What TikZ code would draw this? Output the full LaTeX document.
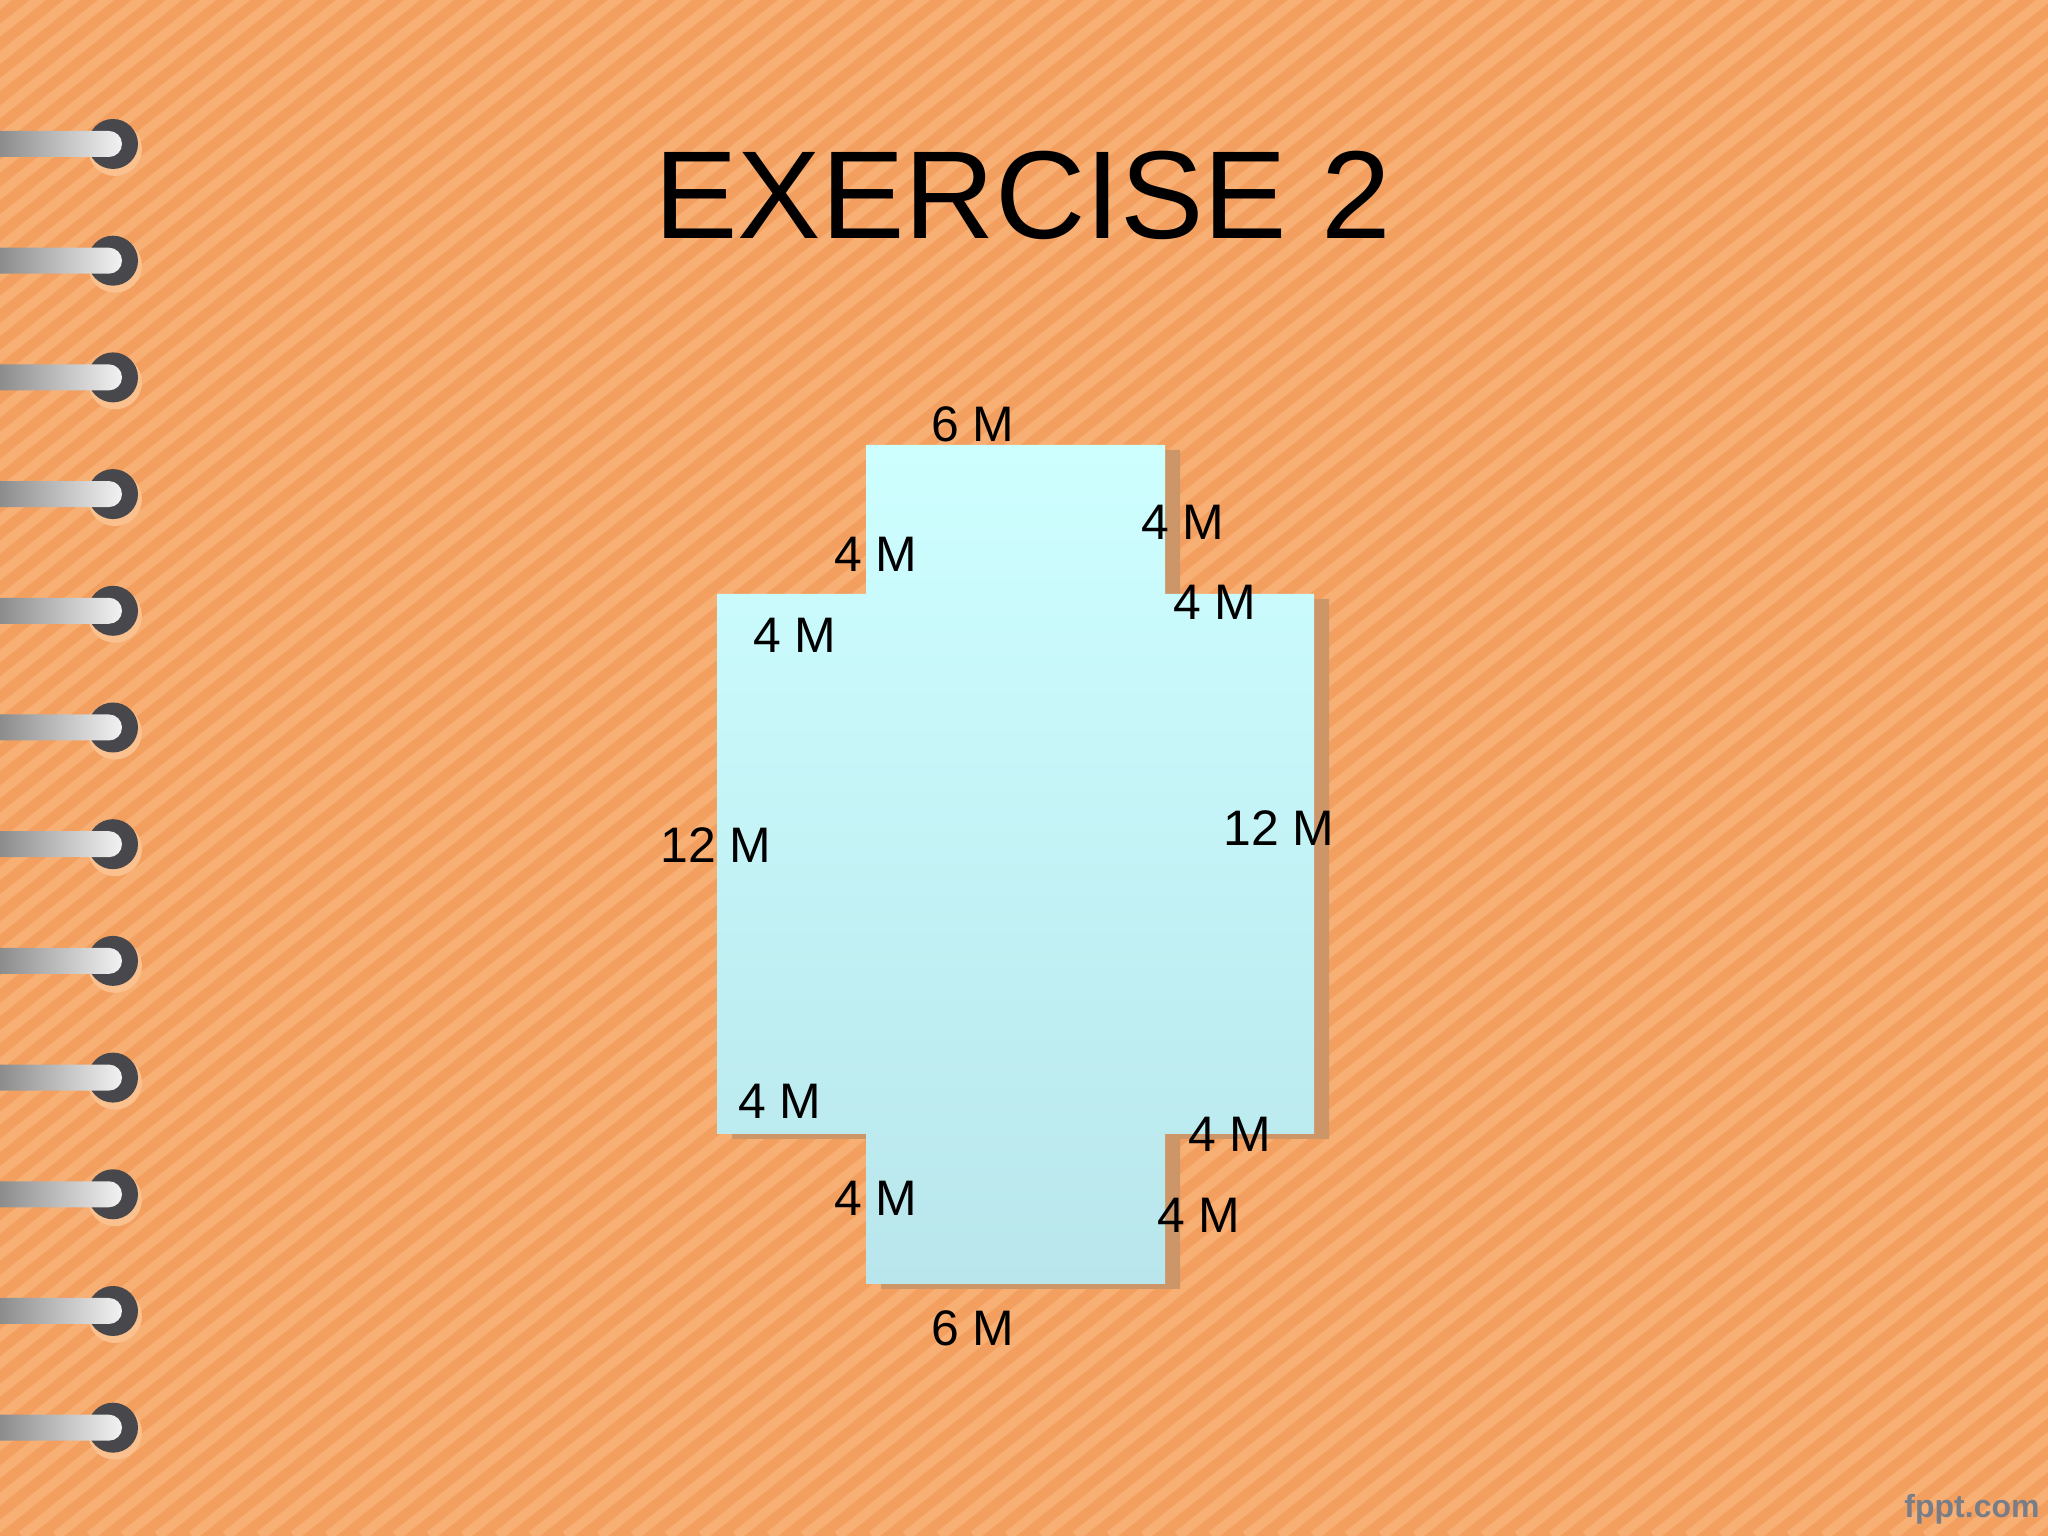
\documentclass[tikz,border=0pt]{standalone}
\usepackage{fontspec}
\setmainfont{Liberation Sans}
\usepackage{tikz}
\usetikzlibrary{positioning}

\definecolor{paper}{RGB}{243,159,95}
\definecolor{stripe}{RGB}{248,175,116}
\definecolor{halo}{RGB}{250,192,142}
\definecolor{ring}{RGB}{72,72,76}
\definecolor{shadowtan}{RGB}{204,150,104}
\definecolor{cyantop}{RGB}{206,255,255}
\definecolor{cyanbot}{RGB}{184,230,236}
\definecolor{logo}{RGB}{120,125,135}

\tikzset{
  lbl/.style={inner sep=0pt, font=\fontsize{14.2}{16}\selectfont},
  title/.style={inner sep=0pt, font=\fontsize{35.6}{40}\selectfont}
}

\begin{document}
\begin{tikzpicture}
      % Background
      \fill[paper] (0,0) rectangle (20.48,15.36);
      \useasboundingbox (0,0) rectangle (20.48,15.36);
      \begin{scope}
      \clip (0,0) rectangle (20.48,15.36);
      \foreach \s in {0,...,125}
        \draw[stripe, line width=0.1cm] ({-19.5+\s*0.34},0) -- ++(19.5,15.6);
      \end{scope}

      % Rings
      \foreach \i in {0,...,11} {
        \fill[halo] (1.15,13.87-\i*1.167) circle (0.27);
        \fill[ring] (1.13,13.92-\i*1.167) circle (0.25);
        \shade[left color=black!45, right color=white!95!black]
          (0,13.79-\i*1.167) -- (1.09,13.79-\i*1.167) arc (-90:90:0.13)
          -- (0,14.05-\i*1.167) -- cycle;
      }

      % Title
      \node[title] (title) at (10.23,13.41) {EXERCISE 2};

      % Shape
      \fill[shadowtan, xshift=0.15cm, yshift=-0.05cm]
        (8.66,10.91) -- (11.65,10.91) -- (11.65,9.42) -- (13.14,9.42) -- (13.14,4.02)
        -- (11.65,4.02) -- (11.65,2.52) -- (8.66,2.52) -- (8.66,4.02) -- (7.17,4.02)
        -- (7.17,9.42) -- (8.66,9.42) -- cycle;
      \shade[top color=cyantop, bottom color=cyanbot]
        (8.66,10.91) -- (11.65,10.91) -- (11.65,9.42) -- (13.14,9.42) -- (13.14,4.02)
        -- (11.65,4.02) -- (11.65,2.52) -- (8.66,2.52) -- (8.66,4.02) -- (7.17,4.02)
        -- (7.17,9.42) -- (8.66,9.42) -- cycle;

      % Labels
      \node[lbl] (topw) at (9.73,11.12) {6 M};
      \node[lbl] (tl) at (8.76,9.82) {4 M};
      \node[lbl] (tr) at (11.83,10.14) {4 M};
      \node[lbl] (trs) at (12.15,9.34) {4 M};
      \node[lbl] (tls) at (7.95,9.01) {4 M};
      \node[lbl] (left) at (7.16,6.91) {12 M};
      \node[lbl] (right) at (12.79,7.08) {12 M};
      \node[lbl] (bls) at (7.80,4.35) {4 M};
      \node[lbl] (brs) at (12.30,4.02) {4 M};
      \node[lbl] (bl) at (8.76,3.38) {4 M};
      \node[lbl] (br) at (11.99,3.21) {4 M};
      \node[lbl] (botw) at (9.73,2.08) {6 M};

      % Logo
      \node[inner sep=0pt, text=logo, font=\fontsize{9.1}{11}\selectfont\bfseries] (logo) at (19.72,0.27) {fppt.com};
\end{tikzpicture}
\end{document}
